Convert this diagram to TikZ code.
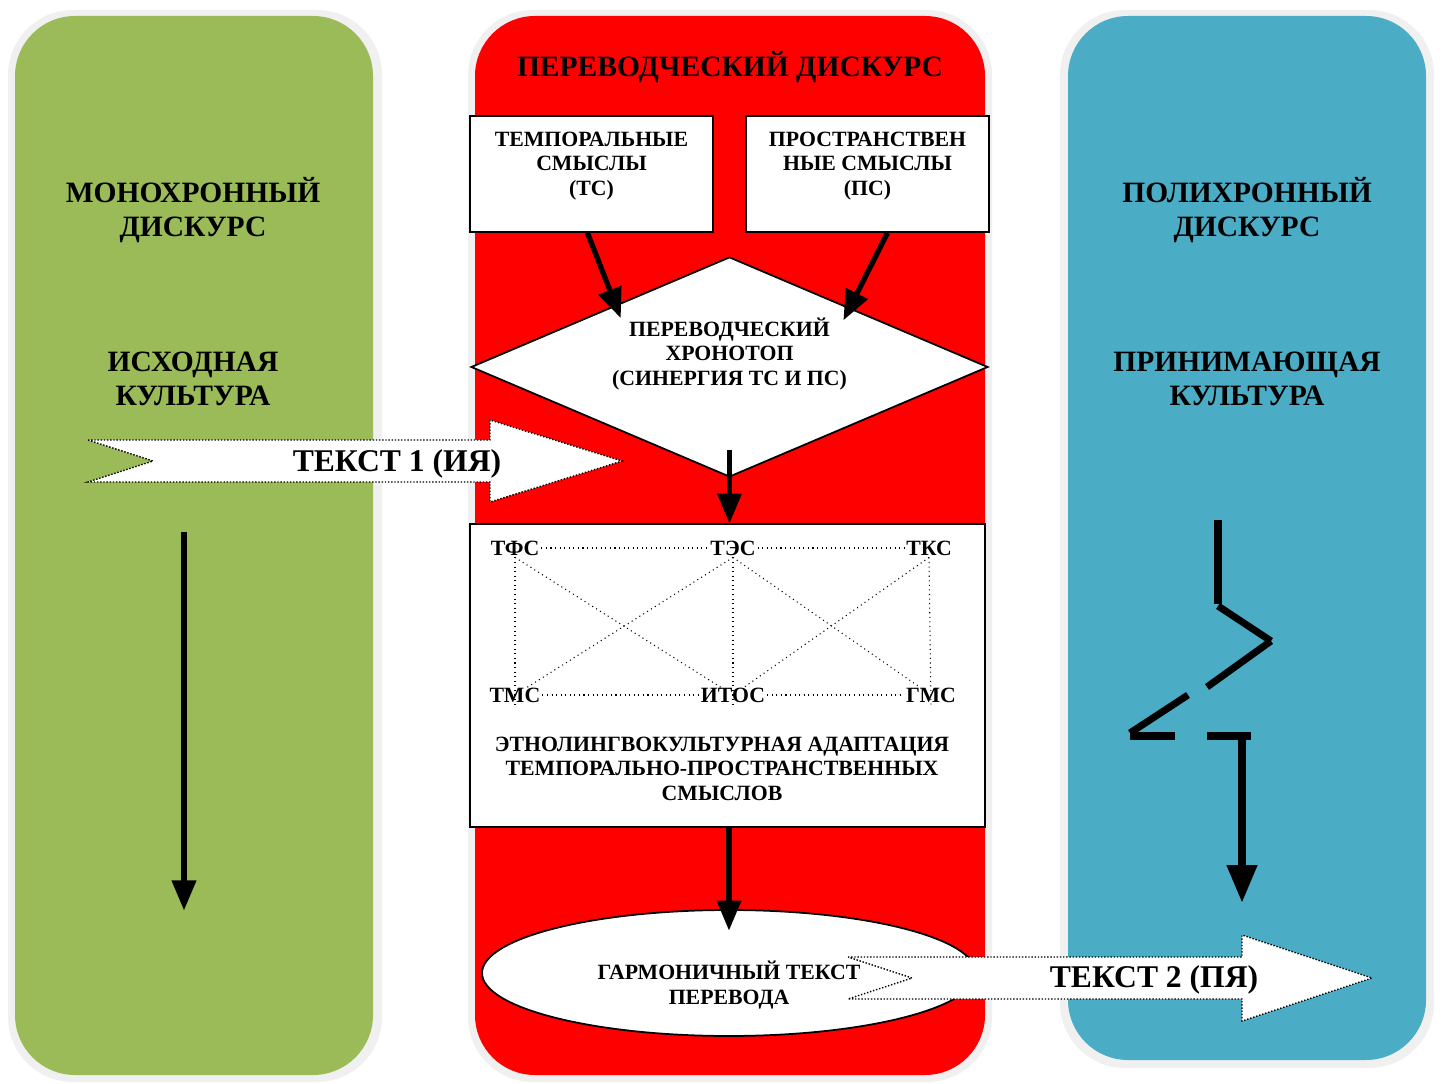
\documentclass[tikz,border=0pt]{standalone}
\usepackage{fontspec}
\setmainfont{Liberation Serif}
\usetikzlibrary{arrows}
\usetikzlibrary{shapes.geometric}
\usetikzlibrary{calc}

\definecolor{mono}{HTML}{9BBB59}
\definecolor{perev}{HTML}{FF0000}
\definecolor{poly}{HTML}{4BACC6}
\definecolor{rim}{HTML}{F0F0F0}

\tikzset{
  title/.style={font=\fontsize{16.8}{19.5}\selectfont\bfseries, align=center},
  small/.style={font=\fontsize{12.4}{14}\selectfont\bfseries, align=center},
  sbox/.style={draw, line width=1pt, fill=white, minimum width=4.86cm, minimum height=2.32cm},
  sense/.style={font=\fontsize{12.4}{14}\selectfont\bfseries, inner sep=1pt},
  link/.style={dotted, line width=0.6pt},
  flow/.style={->, line width=3pt},
  zig/.style={line width=4pt},
  band/.style={draw=black, densely dotted, line width=0.8pt, fill=white},
  bandtext/.style={font=\fontsize{18}{21}\selectfont\bfseries},
}

\begin{document}
\begin{tikzpicture}[line cap=butt, line join=miter, >=triangle 45, x=0.02cm, y=-0.02cm]
  \useasboundingbox (0,0) rectangle (1444,1084);
  % panels
  \fill[rim, rounded corners=1.3cm] (8,10) rectangle (382,1082);
  \fill[mono, rounded corners=1.2cm] (15,16) rectangle (373,1075);
  \fill[rim, rounded corners=1.3cm] (468,10) rectangle (992,1082);
  \fill[perev, rounded corners=1.2cm] (475,16) rectangle (985,1075);
  \fill[rim, rounded corners=1.3cm] (1060,10) rectangle (1434,1068);
  \fill[poly, rounded corners=1.2cm] (1068,16) rectangle (1426,1060);

  \node[title] (mono) at (193,210) {МОНОХРОННЫЙ\\ДИСКУРС};
  \node[title] (src) at (193,379) {ИСХОДНАЯ\\КУЛЬТУРА};
  \node[title] (poly) at (1247,210) {ПОЛИХРОННЫЙ\\ДИСКУРС};
  \node[title] (tgt) at (1247,379) {ПРИНИМАЮЩАЯ\\КУЛЬТУРА};
  \node[title] (disc) at (730,67) {ПЕРЕВОДЧЕСКИЙ ДИСКУРС};

  % meanings
  \node[sbox] (ts) at (591.5,174) {};
  \node[small, below=6pt] (ts-t) at (ts.north) {ТЕМПОРАЛЬНЫЕ\\СМЫСЛЫ\\(ТС)};
  \node[sbox] (ps) at (867.5,174) {};
  \node[small, below=6pt] (ps-t) at (ps.north) {ПРОСТРАНСТВЕН\\НЫЕ СМЫСЛЫ\\(ПС)};

  % chronotope
  \node[draw, diamond, line width=1pt, fill=white, aspect=2.35, inner sep=0pt,
        minimum width=10.34cm, minimum height=4.4cm] (chron) at (729.5,367) {};
  \node[small] (chron-t) at ($(chron.center)+(0,-13)$) {ПЕРЕВОДЧЕСКИЙ\\ХРОНОТОП\\(СИНЕРГИЯ ТС И ПС)};
  \draw[flow] ($(ts.south)+(-4,0)$) -- ($(chron.north)!0.42!(chron.west)+(0,15)$);
  \draw[flow] ($(ps.south)+(20,0)$) -- ($(chron.north)!0.44!(chron.east)+(0,15)$);

  % adaptation
  \node[draw, line width=1pt, fill=white, minimum width=10.3cm, minimum height=6.06cm] (adapt) at (727.5,675.5) {};
  \draw[flow] ([yshift=16pt]chron.south) -- (chron.south |- adapt.north);
  \node[sense] (tfs) at (515,548) {ТФС};
  \node[sense] (tes) at (733,548) {ТЭС};
  \node[sense] (tks) at (929,548) {ТКС};
  \node[sense] (tms) at (515,695) {ТМС};
  \node[sense] (itos) at (733,695) {ИТОС};
  \node[sense] (gms) at (931,695) {ГМС};
  \draw[link] (tfs.east) -- (tes.west);
  \draw[link] (tes.east) -- (tks.west);
  \draw[link] (tms.east) -- (itos.west);
  \draw[link] (itos.east) -- (gms.west);
  \draw[link] (tfs.south) -- (tms.south);
  \draw[link] (tes.south) -- (itos.south);
  \draw[link] (tks.south) -- (gms.south);
  \draw[link, shorten >=8pt] (tfs.south) -- (itos.center);
  \draw[link, shorten >=8pt] (tes.south) -- (tms.center);
  \draw[link, shorten >=8pt] (tes.south) -- (gms.center);
  \draw[link, shorten >=8pt] (tks.south) -- (itos.center);
  \node[small] (adapt-t) at (722,768.5) {ЭТНОЛИНГВОКУЛЬТУРНАЯ АДАПТАЦИЯ\\ТЕМПОРАЛЬНО-ПРОСТРАНСТВЕННЫХ\\СМЫСЛОВ};

  % harmonic text
  \node[draw, ellipse, line width=1pt, fill=white, inner sep=0pt,
        minimum width=9.88cm, minimum height=2.52cm] (harm) at (729,973) {};
  \node[small] (harm-t) at (729,985) {ГАРМОНИЧНЫЙ ТЕКСТ\\ПЕРЕВОДА};
  \draw[flow] (harm.north |- adapt.south) -- ([yshift=-12pt]harm.north);

  % text bands
  \draw[band] (88,440) -- (490,440) -- (490,420) -- (622,461) -- (490,502) -- (490,482) -- (88,482) -- (153,461) -- cycle;
  \node[bandtext] (text1) at (397,464) {ТЕКСТ 1 (ИЯ)};
  \draw[band] (848,957) -- (1242,957) -- (1242,935) -- (1372,978) -- (1242,1021) -- (1242,999) -- (848,999) -- (912,978) -- cycle;
  \node[bandtext] (text2) at (1154,980) {ТЕКСТ 2 (ПЯ)};

  % source culture
  \coordinate (m-top) at (184,532);
  \coordinate (m-bot) at (184,910);
  \draw[flow] (m-top) -- (m-bot);

  % target culture
  \draw[zig] (1218,520) -- (1218,604);
  \draw[zig] (1218,606) -- (1271,641);
  \draw[zig] (1271,641) -- (1207,687);
  \draw[zig] (1188,695) -- (1130,733);
  \draw[zig] (1130,736) -- (1175,736);
  \draw[zig] (1207,736) -- (1251,736);
  \draw[zig, ->] (1242,736) -- (1242,902);
\end{tikzpicture}
\end{document}
